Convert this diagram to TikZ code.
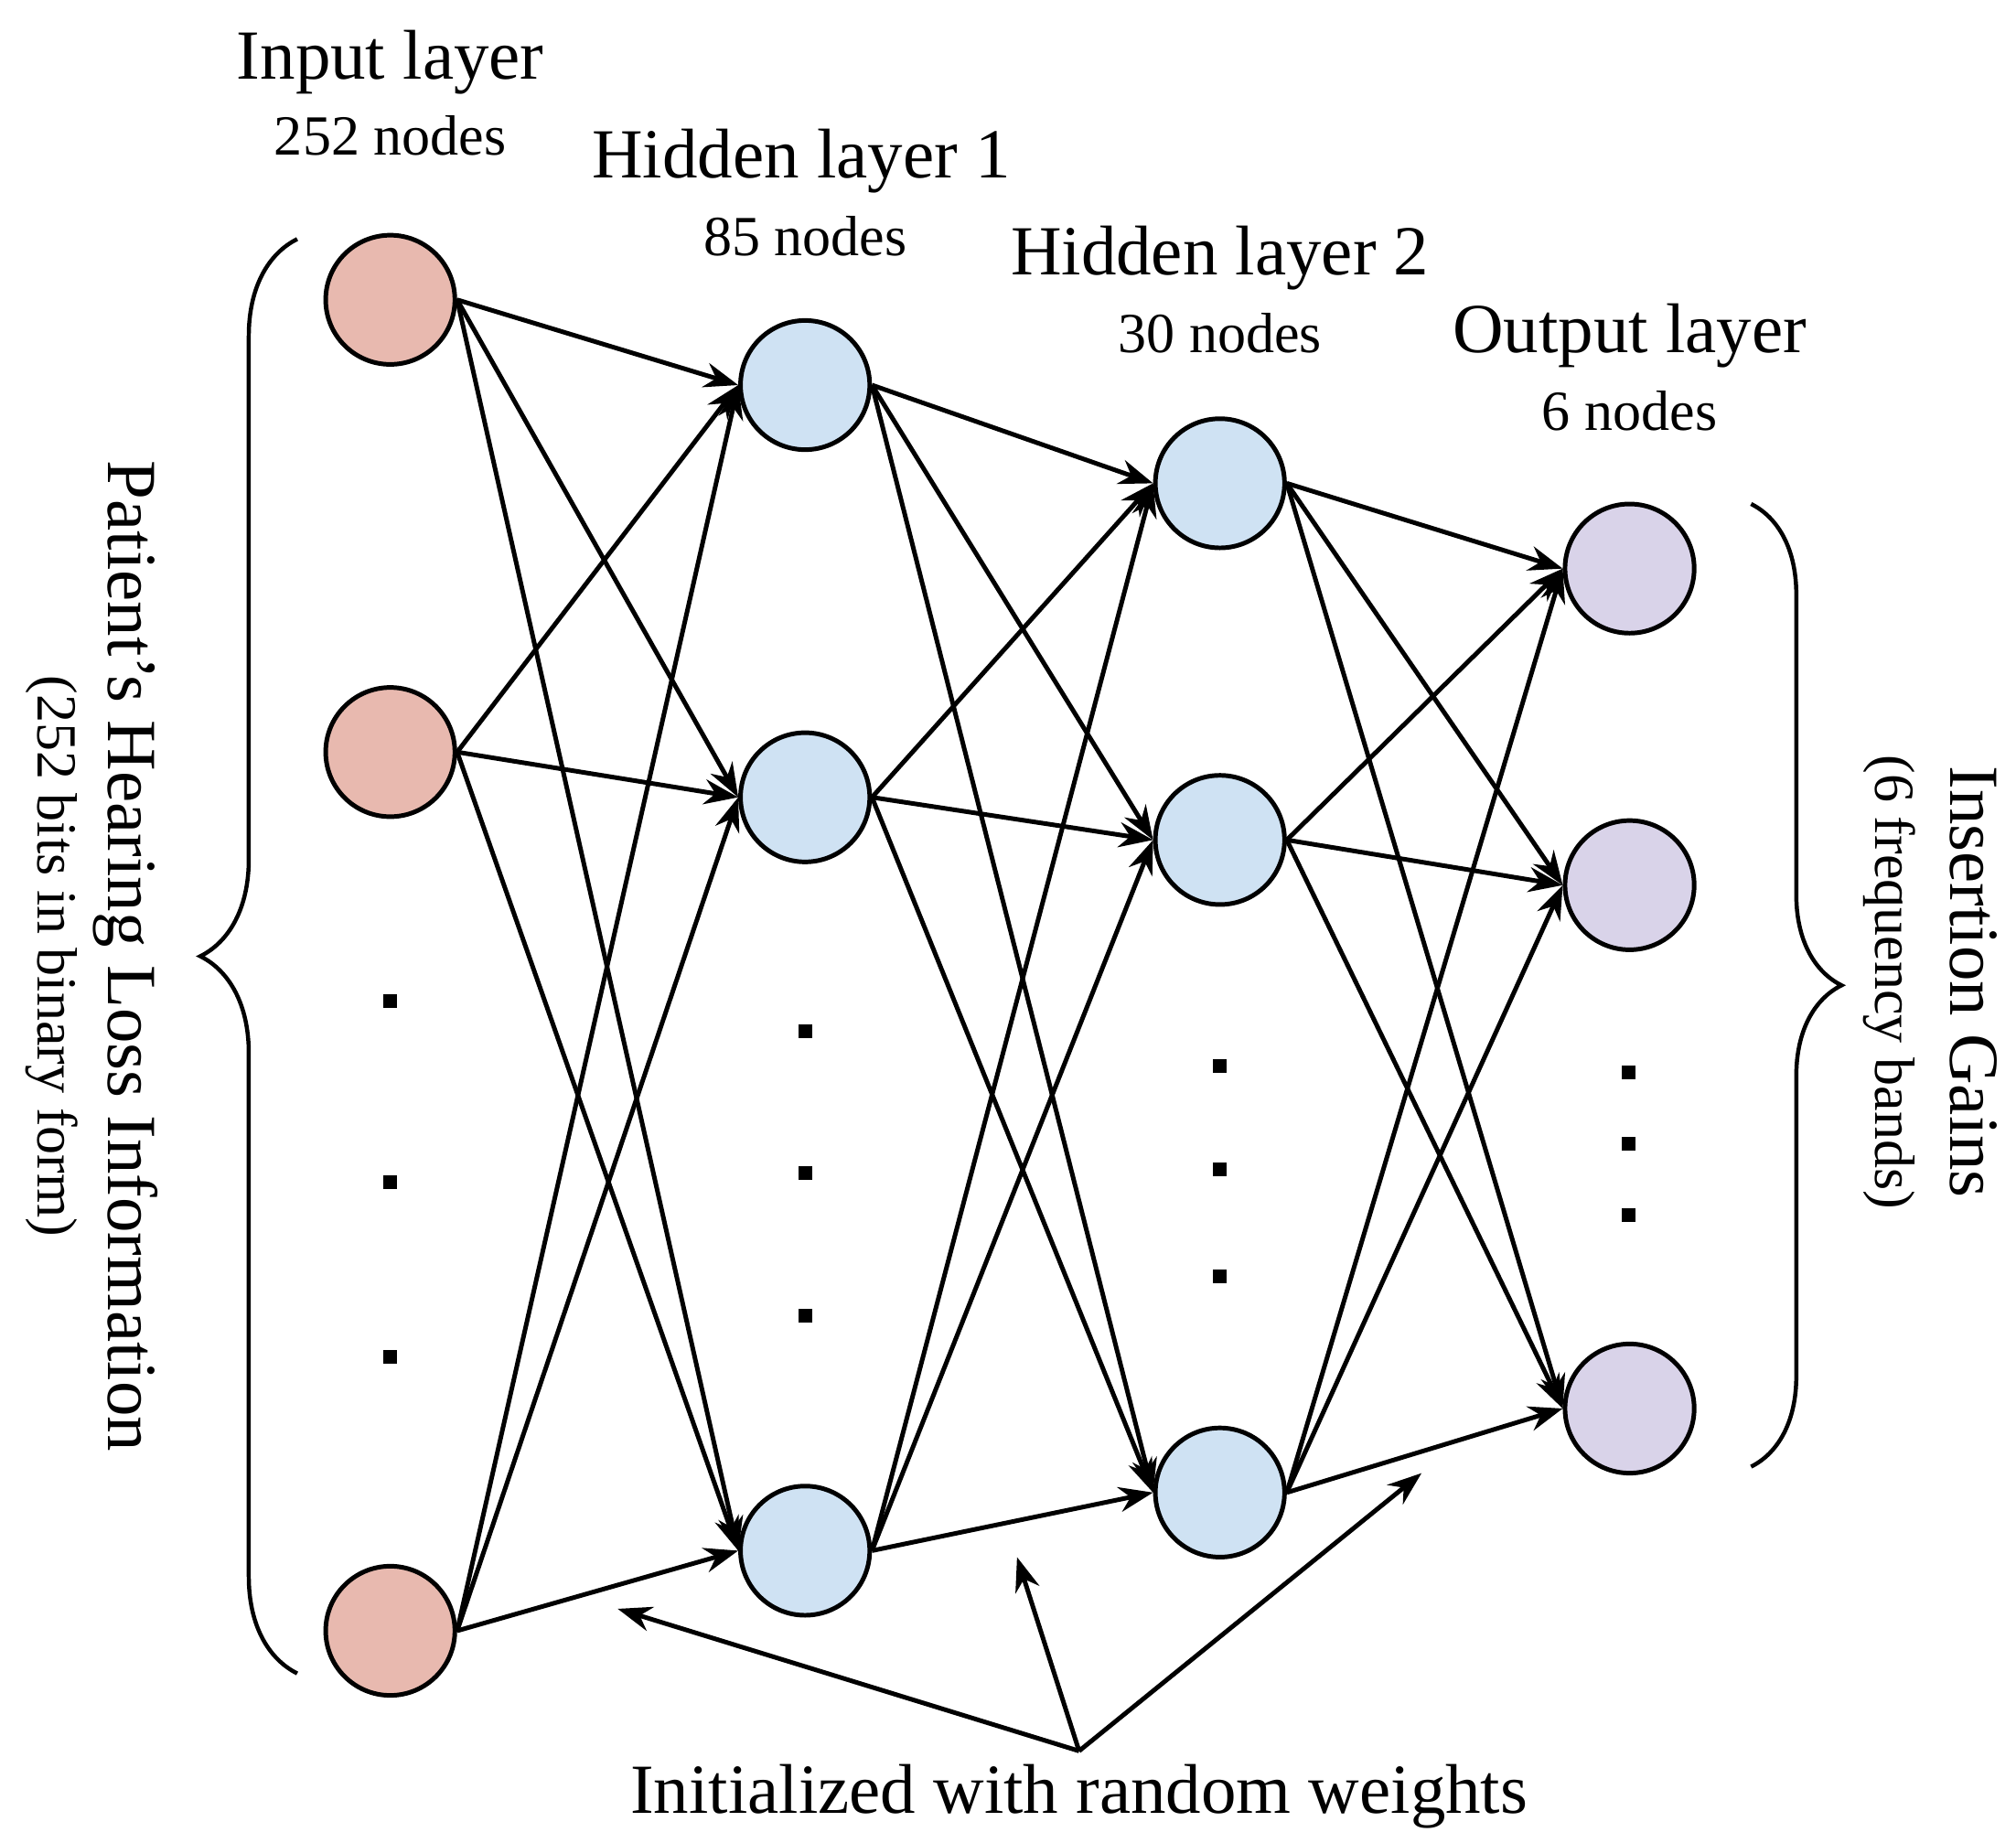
\documentclass[tikz,border=0pt]{standalone}
\usepackage{fontspec}
\setmainfont{Liberation Serif}
\usetikzlibrary{arrows.meta,decorations.pathreplacing}
\definecolor{inc}{HTML}{E8B9AF}
\definecolor{hic}{HTML}{CFE2F3}
\definecolor{ouc}{HTML}{D9D3E9}
\begin{document}
\begin{tikzpicture}[x=0.02cm,y=-0.02cm,
  neuron/.style={circle,draw,line width=2pt,minimum size=2cm,inner sep=0pt},
  conn/.style={line width=2pt,-{Stealth[length=15pt,width=11pt]}},
  big/.style={font=\fontsize{31}{36}\selectfont},
  small/.style={font=\fontsize{25}{29}\selectfont},
  dot/.style={fill,minimum size=6pt,inner sep=0pt},
  brace/.style={decorate,line width=1.8pt}]
\useasboundingbox (0,0) rectangle (1560,1426);
\foreach \n/\y in {1/232,2/582,3/1262} \node[neuron,fill=inc] (i\n) at (302,\y) {};
\foreach \n/\y in {1/298,2/617,3/1200} \node[neuron,fill=hic] (a\n) at (623,\y) {};
\foreach \n/\y in {1/374,2/650,3/1155} \node[neuron,fill=hic] (b\n) at (944,\y) {};
\foreach \n/\y in {1/440,2/685,3/1090} \node[neuron,fill=ouc] (o\n) at (1261,\y) {};
\foreach \p/\q in {i/a,a/b,b/o}
  \foreach \s in {1,2,3}
    \foreach \t in {1,2,3}
      \draw[conn] (\p\s.east) -- (\q\t.west);
\foreach \y [count=\k] in {775,915,1050} \node[dot] (di\k) at (302,\y) {};
\foreach \y [count=\k] in {798,908,1018} \node[dot] (da\k) at (623,\y) {};
\foreach \y [count=\k] in {825,905,988} \node[dot] (db\k) at (944,\y) {};
\foreach \y [count=\k] in {830,885,940} \node[dot] (do\k) at (1260,\y) {};
\node[big] (t1) at (302,48) {Input layer};
\node[small] (t1b) at (302,105) {252 nodes};
\node[big] (t2) at (620,125) {Hidden layer 1};
\node[small] (t2b) at (623,183) {85 nodes};
\node[big] (t3) at (944,200) {Hidden layer 2};
\node[small] (t3b) at (944,258) {30 nodes};
\node[big] (t4) at (1261,260) {Output layer};
\node[small] (t4b) at (1261,318) {6 nodes};
\coordinate (lb1) at (230,1295); \coordinate (lb2) at (230,185);
\draw[brace,decoration={brace,amplitude=1.5cm}] (lb1) -- (lb2);
\coordinate (rb1) at (1355,390); \coordinate (rb2) at (1355,1135);
\draw[brace,decoration={brace,amplitude=1.4cm}] (rb1) -- (rb2);
\node[big,rotate=-90] (lt) at (97,740) {Patient’s Hearing Loss Information};
\node[small,rotate=-90] (lt2) at (40,740) {(252 bits in binary form)};
\node[big,rotate=-90] (rt) at (1527,760) {Insertion Gains};
\node[small,rotate=-90] (rt2) at (1462,760) {(6 frequency bands)};
\node[big] (bt) at (835,1390) {Initialized with random weights};
\coordinate (src) at (835,1355);
\coordinate (e1) at (478,1245);
\coordinate (e2) at (787,1205);
\coordinate (e3) at (1100,1140);
\foreach \e in {e1,e2,e3} \draw[conn] (src) -- (\e);
\end{tikzpicture}
\end{document}
